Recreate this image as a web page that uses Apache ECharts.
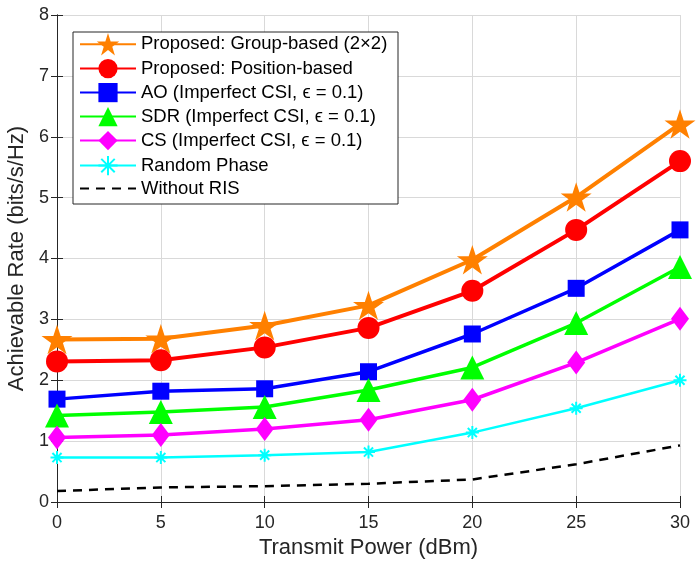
<!DOCTYPE html>
<html>
<head>
<meta charset="utf-8">
<script src="https://cdn.jsdelivr.net/npm/echarts@6/dist/echarts.min.js"></script>
<style>
  html, body { margin: 0; padding: 0; background: #fff; }
  #chart { width: 697px; height: 574px; }
</style>
</head>
<body>
<div id="chart"></div>
<script>
// 横轴: 发射功率 (dBm)
let power = [0, 5, 10, 15, 20, 25, 30];

// 各方案的可达速率
let groupBased = [2.67, 2.68, 2.90, 3.23, 3.98, 5.01, 6.21];
let positionBased = [2.31, 2.33, 2.54, 2.86, 3.47, 4.47, 5.60];
let aoRate = [1.69, 1.82, 1.86, 2.14, 2.76, 3.51, 4.47];
let sdrRate = [1.42, 1.48, 1.56, 1.84, 2.21, 2.94, 3.86];
let csRate = [1.06, 1.10, 1.20, 1.35, 1.68, 2.29, 3.01];
let randomPhase = [0.73, 0.73, 0.77, 0.82, 1.14, 1.54, 2.00];
let withoutRis = [0.18, 0.24, 0.26, 0.30, 0.37, 0.62, 0.93];

let xTicks = [0, 5, 10, 15, 20, 25, 30];
let yTicks = [0, 1, 2, 3, 4, 5, 6, 7, 8];

let names = [
    'Proposed: Group-based (2×2)',
    'Proposed: Position-based',
    'AO (Imperfect CSI, ϵ = 0.1)',
    'SDR (Imperfect CSI, ϵ = 0.1)',
    'CS (Imperfect CSI, ϵ = 0.1)',
    'Random Phase',
    'Without RIS'
];

const starPath = 'path://M0,-1L0.2245,-0.309L0.951,-0.309L0.363,0.118L0.588,0.809L0,0.382L-0.588,0.809L-0.363,0.118L-0.951,-0.309L-0.2245,-0.309Z';
const asteriskPath = 'path://M0,-1L0,1M-1,0L1,0M-0.7,-0.7L0.7,0.7M-0.7,0.7L0.7,-0.7';

function pairs(values) {
    return power.map((p, i) => [p, values[i]]);
}

function lineSeries(name, values, color, width, symbol, size, extra) {
    let s = {
        name: name,
        type: 'line',
        data: pairs(values),
        symbol: symbol,
        symbolSize: size,
        symbolKeepAspect: true,
        lineStyle: { color: color, width: width },
        itemStyle: { color: color },
        emphasis: { disabled: true },
        animation: false
    };
    return Object.assign(s, extra || {});
}

let series = [
    lineSeries(names[0], groupBased, '#ff8000', 4, starPath, 31),
    lineSeries(names[1], positionBased, '#ff0000', 4, 'circle', 22),
    lineSeries(names[2], aoRate, '#0000ff', 3.5, 'rect', 17),
    lineSeries(names[3], sdrRate, '#00ff00', 3.5, 'triangle', 24),
    lineSeries(names[4], csRate, '#ff00ff', 3.5, 'diamond', [18, 24], { symbolKeepAspect: false }),
    lineSeries(names[5], randomPhase, '#00ffff', 2.5, asteriskPath, 13, {
        itemStyle: { color: '#00ffff', borderColor: '#00ffff', borderWidth: 2 }
    }),
    lineSeries(names[6], withoutRis, '#000000', 2.5, 'circle', 0, {
        showSymbol: false,
        lineStyle: { color: '#000000', width: 2.5, type: [9, 7] }
    })
];

const fontFamily = 'Liberation Sans, Arial, sans-serif';
const axisColor = '#262626';

// 图例: 每项一个 legend, 行距固定; 最后一项只显示虚线
let legends = names.map((n, i) => ({
    orient: 'vertical',
    left: 79,
    top: 35 + i * 24,
    padding: 0,
    itemWidth: 56,
    itemHeight: i === 0 ? 28 : 24,
    z: 5,
    selectedMode: false,
    data: [i === 6
        ? { name: n, itemStyle: { color: 'rgba(0,0,0,0)', borderWidth: 0 } }
        : { name: n }],
    textStyle: {
        fontFamily: fontFamily,
        fontSize: 18.5,
        color: '#000'
    }
}));
legends[0].top = 33;

let option = {
    backgroundColor: '#ffffff',
    animation: false,
    grid: {
        left: 57,
        right: 17,
        top: 15,
        bottom: 72,
        outerBoundsMode: 'none',
        show: false
    },
    graphic: [{
        type: 'rect',
        z: 3,
        shape: { x: 73, y: 32, width: 325, height: 172 },
        style: { fill: '#ffffff', stroke: axisColor, lineWidth: 1 }
    }],
    legend: legends,
    xAxis: [{
        type: 'value',
        min: 0,
        max: 30,
        interval: 5,
        name: 'Transmit Power (dBm)',
        nameLocation: 'middle',
        nameGap: 35,
        nameTextStyle: { fontFamily: fontFamily, fontSize: 22, color: axisColor },
        axisLine: { show: true, lineStyle: { color: axisColor, width: 1 } },
        axisTick: { show: true, inside: true, length: 6, lineStyle: { color: axisColor } },
        axisLabel: {
            fontFamily: fontFamily, fontSize: 18, color: axisColor, margin: 12,
            formatter: v => xTicks.indexOf(v) >= 0 ? String(v) : ''
        },
        splitLine: { show: true, lineStyle: { color: '#d9d9d9', width: 1 } }
    }, {
        type: 'value',
        position: 'top',
        min: 0,
        max: 30,
        interval: 5,
        axisLine: { show: true, lineStyle: { color: axisColor, width: 1 } },
        axisTick: { show: true, inside: true, length: 6, lineStyle: { color: axisColor } },
        axisLabel: { show: false },
        splitLine: { show: false }
    }],
    yAxis: [{
        type: 'value',
        min: 0,
        max: 8,
        interval: 1,
        name: 'Achievable Rate (bits/s/Hz)',
        nameLocation: 'middle',
        nameGap: 29,
        nameTextStyle: { fontFamily: fontFamily, fontSize: 22, color: axisColor },
        axisLine: { show: true, lineStyle: { color: axisColor, width: 1 } },
        axisTick: { show: true, inside: true, length: 6, lineStyle: { color: axisColor } },
        axisLabel: {
            fontFamily: fontFamily, fontSize: 18, color: axisColor, margin: 8,
            formatter: v => yTicks.indexOf(v) >= 0 ? String(v) : ''
        },
        splitLine: { show: true, lineStyle: { color: '#d9d9d9', width: 1 } }
    }, {
        type: 'value',
        position: 'right',
        min: 0,
        max: 8,
        interval: 1,
        axisLine: { show: true, lineStyle: { color: axisColor, width: 1 } },
        axisTick: { show: true, inside: true, length: 6, lineStyle: { color: axisColor } },
        axisLabel: { show: false },
        splitLine: { show: false }
    }],
    series: series
};

let myChart = echarts.init(document.getElementById('chart'));
myChart.setOption(option);
</script>
</body>
</html>
